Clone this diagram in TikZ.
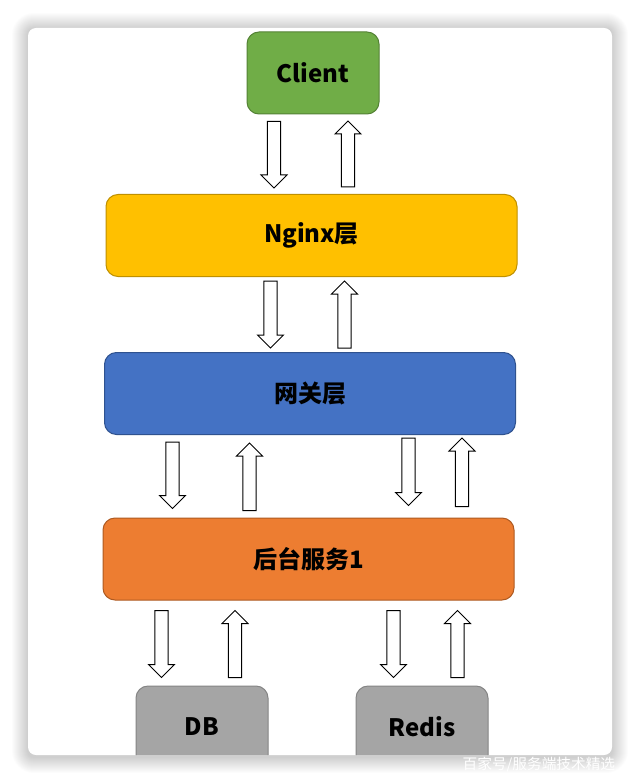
\documentclass[tikz,border=0pt]{standalone}
\usepackage{fontspec}
\newfontfamily\cjk{Noto Sans CJK SC}
\usetikzlibrary{calc}

\definecolor{clientfill}{HTML}{70AD47}
\definecolor{clientline}{HTML}{548235}
\definecolor{nginxfill}{HTML}{FFC000}
\definecolor{nginxline}{HTML}{BF9000}
\definecolor{gatefill}{HTML}{4472C4}
\definecolor{gateline}{HTML}{2F528F}
\definecolor{backfill}{HTML}{ED7D31}
\definecolor{backline}{HTML}{AE5A21}
\definecolor{storefill}{HTML}{A5A5A5}
\definecolor{storeline}{HTML}{858585}

\tikzset{
  box/.style={draw, line width=0.75pt, rounded corners=9pt, minimum height=61.5pt,
    text=black, font=\cjk\bfseries\fontsize{18}{20}\selectfont},
  smallbox/.style={box, minimum width=99pt},
  layerbox/.style={box, minimum width=308.25pt},
  flow/.style={draw=black, fill=white, line width=0.75pt},
}

% hollow block arrow from tail #1 to the height of tip #2
\newcommand{\flowarrow}[2]{%
  \path[flow] let \p1=(#1), \p2=(#2), \n1={sign(\y2-\y1)} in
    ({\x1-4.9pt},\y1) -- ({\x1-4.9pt},{\y2-\n1*9.75pt}) -- ({\x1-9.75pt},{\y2-\n1*9.75pt})
    -- (\x1,\y2) -- ({\x1+9.75pt},{\y2-\n1*9.75pt}) -- ({\x1+4.9pt},{\y2-\n1*9.75pt})
    -- ({\x1+4.9pt},\y1) -- cycle;}

\begin{document}
\begin{tikzpicture}[x=0.75pt,y=-0.75pt]
  \useasboundingbox (0,0) rectangle (640,784);
  \fill[white] (0,0) rectangle (640,784);
  % soft shadow round the card
  \foreach \i in {1,...,16}
    \fill[black, opacity=0.011, rounded corners={(6+\i)*0.75pt}]
      ({28-\i},{29-\i}) rectangle ({612+\i},{757+\i});
  \fill[white, rounded corners=6pt] (28,28) rectangle (612,755);

  % layers
  \node[smallbox, fill=clientfill, draw=clientline] (client) at (313,73) {Client};
  \node[layerbox, fill=nginxfill, draw=nginxline] (nginx) at (311.5,235.5) {Nginx层};
  \node[layerbox, fill=gatefill, draw=gateline] (gateway) at (310,393.5) {网关层};
  \node[layerbox, fill=backfill, draw=backline] (backend) at (308.5,559) {后台服务1};
  \begin{scope}
    \clip[rounded corners=6pt] (28,28) rectangle (612,755);
    \node[smallbox, fill=storefill, draw=storeline] (db) at (202,727) {DB};
    \node[smallbox, fill=storefill, draw=storeline] (redis) at (422,727) {Redis};
  \end{scope}

  % client <-> nginx
  \flowarrow{$(client.south)+(-39,7)$}{$(nginx.north)+(0,-6)$}
  \flowarrow{$(nginx.north)+(36.5,-7)$}{$(client.south)+(0,6.5)$}
  % nginx <-> gateway
  \flowarrow{$(nginx.south)+(-41,4)$}{$(gateway.north)+(0,-4)$}
  \flowarrow{$(gateway.north)+(34.5,-4)$}{$(nginx.south)+(0,4)$}
  % gateway <-> backend
  \flowarrow{$(gateway.south)+(-137.5,7)$}{$(backend.north)+(0,-9)$}
  \flowarrow{$(backend.north)+(-59,-7)$}{$(gateway.south)+(0,8)$}
  \flowarrow{$(gateway.south)+(98.5,3)$}{$(backend.north)+(0,-12)$}
  \flowarrow{$(backend.north)+(153.5,-11)$}{$(gateway.south)+(0,3)$}
  % backend <-> stores
  \flowarrow{$(backend.south)+(-147,10)$}{$(db.north)+(0,-8)$}
  \flowarrow{$(db.north)+(33,-8)$}{$(backend.south)+(0,10)$}
  \flowarrow{$(backend.south)+(85,10)$}{$(redis.north)+(0,-8)$}
  \flowarrow{$(redis.north)+(35.5,-8)$}{$(backend.south)+(0,10)$}

  % watermark
  \node[anchor=west, text=white, font=\cjk\fontsize{11}{12}\selectfont] (mark) at (458,765)
    {百家号/服务端技术精选};
\end{tikzpicture}
\end{document}
